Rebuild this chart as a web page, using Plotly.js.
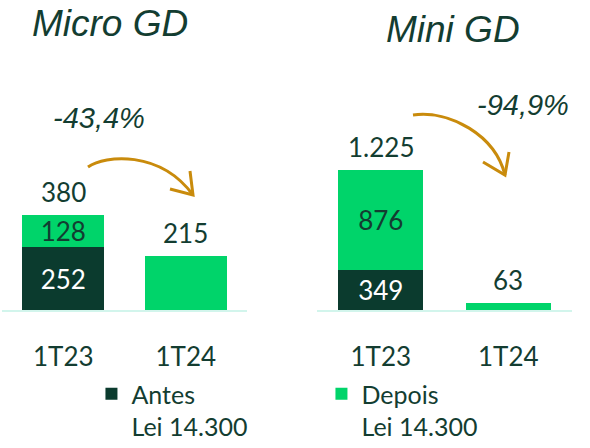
<!DOCTYPE html>
<html>
<head>
<meta charset="utf-8">
<script src="https://cdn.plot.ly/plotly-3.0.1.min.js"></script>
<style>
  html, body { margin: 0; padding: 0; background: #ffffff; }
  #chart { width: 590px; height: 448px; }
</style>
</head>
<body>
<div id="chart"></div>
<script>
// ---------------- data ----------------
const categories = ['1T23', '1T24'];
const panelTitles = ['Micro GD', 'Mini GD'];
const microAntes = [252, null];
const microDepois = [128, 215];
const miniAntes = [349, null];
const miniDepois = [876, 63];
const changeLabels = ['-43,4%', '-94,9%'];
const seriesNames = ['Antes<br>Lei 14.300', 'Depois<br>Lei 14.300'];

// ---------------- style ----------------
const DARK = '#0b3b2e';
const BRIGHT = '#00d46a';
const TEXT = '#133d31';
const ARROW = '#c98b0c';
const AXISLINE = '#d2f5ec';
const LABEL_FONT = 'Lato, "Noto Sans", sans-serif';
const TITLE_FONT = '"Liberation Sans", Arial, sans-serif';

function fmt(v) {
  return String(v).replace(/\B(?=(\d{3})+(?!\d))/g, '.');
}

const panels = [
  { antes: microAntes, depois: microDepois, xa: 'x', ya: 'y' },
  { antes: miniAntes, depois: miniDepois, xa: 'x2', ya: 'y2' }
];

const traces = [];
const annotations = [];

panels.forEach((p, pi) => {
  const both = p.antes.map((a, i) => a != null && a > 0 && p.depois[i] != null);
  traces.push({
    type: 'bar', name: seriesNames[0], legendgroup: 'antes', showlegend: pi === 0,
    x: categories, y: p.antes, xaxis: p.xa, yaxis: p.ya,
    marker: { color: DARK, line: { width: 0 } },
    text: p.antes.map((v, i) => both[i] ? fmt(v) : ''),
    textposition: 'inside', insidetextanchor: 'middle', constraintext: 'none', textangle: 0,
    textfont: { family: LABEL_FONT, size: 26, color: '#ffffff' },
    hoverinfo: 'skip'
  });
  traces.push({
    type: 'bar', name: seriesNames[1], legendgroup: 'depois', showlegend: pi === 0,
    x: categories, y: p.depois, xaxis: p.xa, yaxis: p.ya,
    marker: { color: BRIGHT, line: { width: 0 } },
    text: p.depois.map((v, i) => both[i] ? fmt(v) : ''),
    textposition: 'inside', insidetextanchor: 'middle', constraintext: 'none', textangle: 0,
    textfont: { family: LABEL_FONT, size: 26, color: TEXT },
    hoverinfo: 'skip'
  });
  // totals above bars
  categories.forEach((c, i) => {
    const total = (p.antes[i] || 0) + (p.depois[i] || 0);
    annotations.push({
      xref: p.xa, yref: p.ya, x: c, y: total,
      text: fmt(total), showarrow: false,
      xanchor: 'center', yanchor: 'middle', yshift: 23,
      font: { family: LABEL_FONT, size: 26, color: TEXT }
    });
  });
});

// panel titles and change labels (pixel -> paper helpers)
const W = 590, H = 448;
const px = x => x / W;
const py = y => 1 - y / H;

const titlePos = [[110, 23.5], [453, 29]];
const changePos = [[99, 117.5], [523, 105]];
panelTitles.forEach((t, i) => {
  annotations.push({
    xref: 'paper', yref: 'paper', x: px(titlePos[i][0]), y: py(titlePos[i][1]),
    text: '<i>' + t + '</i>', showarrow: false, xanchor: 'center', yanchor: 'middle',
    font: { family: TITLE_FONT, size: 37, color: TEXT }
  });
  annotations.push({
    xref: 'paper', yref: 'paper', x: px(changePos[i][0]), y: py(changePos[i][1]),
    text: '<i>' + changeLabels[i] + '</i>', showarrow: false, xanchor: 'center', yanchor: 'middle',
    font: { family: TITLE_FONT, size: 29, color: TEXT }
  });
});

// curved arrows
function P(x, y) { return px(x).toFixed(5) + ',' + py(y).toFixed(5); }
const arrowPaths = [
  'M' + P(88, 167) + ' C' + P(105, 155) + ' ' + P(160, 150) + ' ' + P(193, 195),
  'M' + P(170, 189) + ' L' + P(193, 195) + ' L' + P(190, 171),
  'M' + P(413, 115) + ' C' + P(450, 110) + ' ' + P(495, 135) + ' ' + P(505, 175),
  'M' + P(483, 162) + ' L' + P(505, 175) + ' L' + P(509, 152)
];
const shapes = arrowPaths.map(d => ({
  type: 'path', xref: 'paper', yref: 'paper', path: d,
  line: { color: ARROW, width: 3 }, fillcolor: 'rgba(0,0,0,0)'
}));

const yDomain = [py(310), py(110)];
const xAxisBase = {
  type: 'category', range: [-0.5, 1.5], showgrid: false, zeroline: false,
  showline: true, linecolor: AXISLINE, linewidth: 2,
  ticks: '', ticklabelstandoff: 23, automargin: false,
  tickfont: { family: LABEL_FONT, size: 26, color: TEXT },
  fixedrange: true
};
const yAxisBase = { visible: false, showgrid: false, zeroline: false, fixedrange: true, automargin: false, domain: yDomain };

const layout = {
  width: W, height: H,
  margin: { l: 0, r: 0, t: 0, b: 0, pad: 0, autoexpand: false },
  paper_bgcolor: '#ffffff', plot_bgcolor: 'rgba(0,0,0,0)',
  barmode: 'stack', bargap: 0.333,
  showlegend: true,
  legend: {
    orientation: 'h', x: 0.155, y: py(371), xanchor: 'left', yanchor: 'top',
    traceorder: 'normal', valign: 'top',
    entrywidth: 185, entrywidthmode: 'pixels',
    font: { family: LABEL_FONT, size: 25, color: TEXT },
    bgcolor: 'rgba(0,0,0,0)', borderwidth: 0
  },
  xaxis: Object.assign({}, xAxisBase, { domain: [px(2), px(247)], anchor: 'y' }),
  xaxis2: Object.assign({}, xAxisBase, { domain: [px(317), px(572)], anchor: 'y2' }),
  yaxis: Object.assign({}, yAxisBase, { range: [0, 800], anchor: 'x' }),
  yaxis2: Object.assign({}, yAxisBase, { range: [0, 1750], anchor: 'x2' }),
  annotations: annotations,
  shapes: shapes
};

Plotly.newPlot('chart', traces, layout, { displayModeBar: false, staticPlot: true });
</script>
</body>
</html>
